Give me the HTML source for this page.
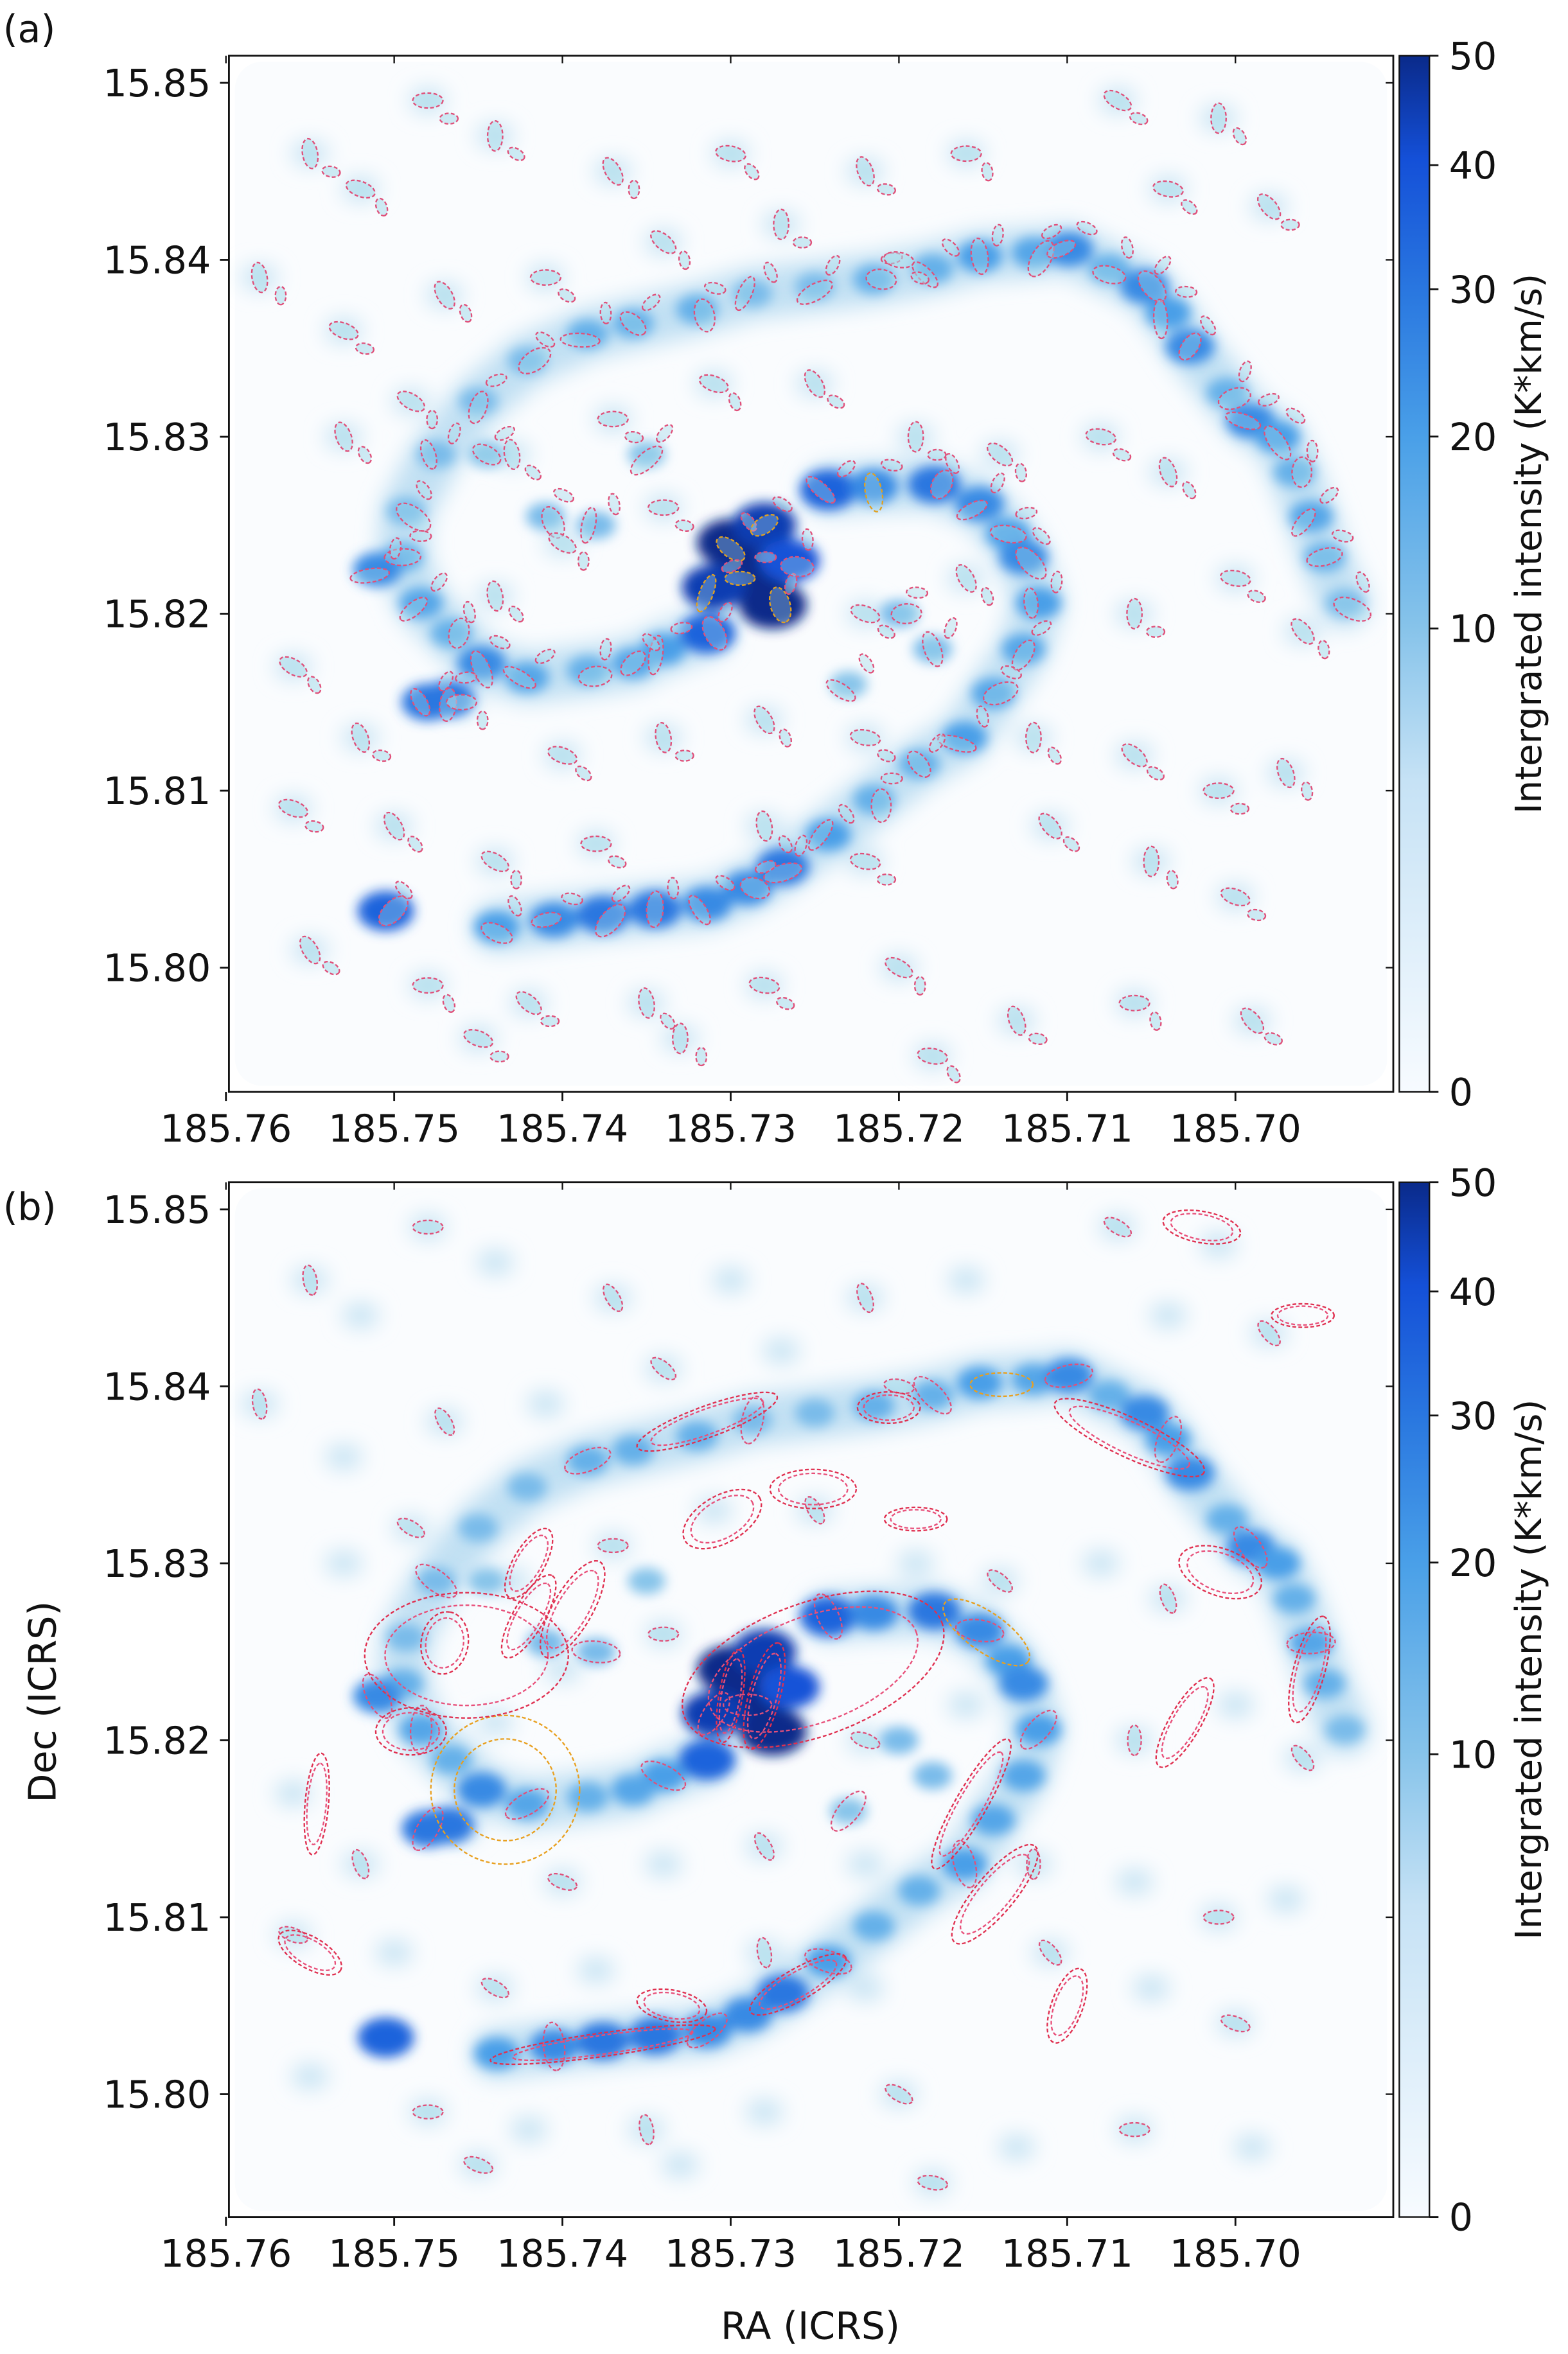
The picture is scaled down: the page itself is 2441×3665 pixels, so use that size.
<!DOCTYPE html>
<html><head><meta charset="utf-8"><style>
html,body{margin:0;padding:0;background:#fff}
svg{display:block}
text{font-family:"DejaVu Sans","Liberation Sans",sans-serif;fill:#111}
</style></head><body>
<svg id="fig" width="2441" height="3665" viewBox="0 0 1041 1563" preserveAspectRatio="none" xmlns="http://www.w3.org/2000/svg">
<defs>
<filter id="blur" x="-50%" y="-50%" width="200%" height="200%"><feGaussianBlur stdDeviation="4"/></filter>
<filter id="blur2" x="-50%" y="-50%" width="200%" height="200%"><feGaussianBlur stdDeviation="7"/></filter>
<linearGradient id="cbgrad" x1="0" y1="1" x2="0" y2="0">
<stop offset="0" stop-color="#f7fbff"/><stop offset="0.3" stop-color="#c6e2f5"/><stop offset="0.45" stop-color="#86c3ea"/><stop offset="0.63" stop-color="#4aa0e8"/><stop offset="0.77" stop-color="#2a78e0"/><stop offset="0.9" stop-color="#1450d8"/><stop offset="1" stop-color="#0a2a8a"/>
</linearGradient>
</defs>
</svg>
<script>
const raTicks=[185.76,185.75,185.74,185.73,185.72,185.71,185.70];
const decTicks=[15.85,15.84,15.83,15.82,15.81,15.80];
const cbTicks=[0,10,20,30,40,50];
const clumpRA=[185.7290,185.7300,185.7275,185.7310,185.7280,185.7265,185.7242,185.7215,185.7179,185.7152,185.7135,185.7126,185.7117,185.7126,185.7144,185.7161,185.7188,185.7215,185.7242,185.7269,185.7290,185.7314,185.7345,185.7376,185.7405,185.7439,185.7314,185.7340,185.7358,185.7385,185.7421,185.7448,185.7466,185.7484,185.7495,185.7493,185.7475,185.7450,185.7421,185.7385,185.7358,185.7320,185.7287,185.7250,185.7215,185.7180,185.7152,185.7120,185.7099,185.7075,185.7054,185.7040,185.7027,185.7005,185.6991,185.6975,185.6965,185.6955,185.6947,185.6935,185.7480,185.7468,185.7505,185.7510,185.7445,185.7410,185.7380,185.7350,185.7200,185.7230,185.7180];
const clumpDec=[15.8220,15.8240,15.8205,15.8215,15.8250,15.8230,15.8270,15.8272,15.8273,15.8262,15.8245,15.8232,15.8206,15.8180,15.8155,15.8130,15.8115,15.8095,15.8075,15.8057,15.8045,15.8036,15.8033,15.8030,15.8027,15.8023,15.8189,15.8180,15.8172,15.8168,15.8164,15.8172,15.8189,15.8206,15.8232,15.8258,15.8290,15.8320,15.8343,15.8358,15.8364,15.8372,15.8381,15.8385,15.8389,15.8395,15.8402,15.8404,15.8406,15.8395,15.8385,15.8370,15.8351,15.8325,15.8309,15.8300,15.8280,15.8255,15.8232,15.8206,15.8150,15.8152,15.8032,15.8225,15.8290,15.8255,15.8250,15.8290,15.8200,15.8160,15.8180];
const clumpI=[50,50,50,45,45,40,35,25,30,25,20,25,20,18,18,20,15,15,20,30,25,25,30,30,25,20,35,20,18,15,18,25,15,18,15,12,12,12,12,15,15,15,12,12,15,15,20,18,25,15,25,20,25,15,25,20,15,18,15,12,30,30,35,25,10,12,12,10,12,10,12];
const fieldRA=[185.755,185.752,185.748,185.744,185.737,185.730,185.722,185.716,185.707,185.701,185.698,185.704,185.758,185.753,185.747,185.741,185.734,185.727,185.720,185.753,185.749,185.743,185.737,185.731,185.725,185.719,185.714,185.708,185.704,185.740,185.734,185.744,185.722,185.716,185.706,185.700,185.696,185.756,185.752,185.746,185.740,185.734,185.728,185.722,185.712,185.706,185.701,185.697,185.756,185.750,185.744,185.738,185.728,185.722,185.711,185.705,185.700,185.755,185.748,185.742,185.735,185.728,185.720,185.713,185.706,185.699,185.745,185.733,185.718];
const fieldDec=[15.846,15.844,15.849,15.847,15.845,15.846,15.845,15.846,15.849,15.848,15.843,15.844,15.839,15.836,15.838,15.839,15.841,15.842,15.840,15.830,15.832,15.829,15.831,15.833,15.833,15.830,15.829,15.830,15.828,15.824,15.826,15.821,15.820,15.822,15.820,15.822,15.819,15.817,15.813,15.815,15.812,15.813,15.814,15.813,15.813,15.812,15.810,15.811,15.809,15.808,15.806,15.807,15.808,15.806,15.808,15.806,15.804,15.801,15.799,15.798,15.798,15.799,15.800,15.797,15.798,15.797,15.796,15.796,15.795];
const fieldPA=[80,20,0,90,60,10,70,0,30,90,50,10,80,20,60,0,40,90,10,70,30,80,0,20,60,90,40,10,70,30,0,80,20,60,90,10,50,30,70,0,20,80,60,10,90,40,0,70,20,60,30,0,80,10,50,90,20,60,0,40,80,10,30,70,0,50,20,90,10];
const bigRA=[185.7434,185.7434,185.7251,185.7376,185.7314,185.7063,185.7148,185.7457,185.6956,185.7009,185.7394,185.7157,185.7143,185.7260,185.7546,185.7206,185.7139,185.7251,185.7305,185.7490,185.7470,185.7420,185.7280,185.7300,185.7030,185.6960,185.7020,185.7420,185.7550,185.7100,185.7335,185.7190];
const bigDec=[15.8172,15.8172,15.8240,15.8028,15.8380,15.8371,15.8261,15.8248,15.8240,15.8295,15.8274,15.8164,15.8113,15.8062,15.8164,15.8388,15.8401,15.8342,15.8325,15.8205,15.8255,15.8300,15.8225,15.8225,15.8210,15.8440,15.8490,15.8270,15.8080,15.8050,15.8050,15.8325];
const bigA=[19,13,35,29,19,21,13,26,14,11,14,19,16,14,13,8,8,11,11,9,8,10,14,12,13,8,10,12,9,10,9,8];
const bigB=[19,13,17,3,4,5,5,16,4,6,5,4,5,4,3,4,3,5,6,6,6,4,4,3,4,3,4,4,4,4,4,3];
const bigPA=[0,0,-20,-8,-20,25,35,0,-75,20,-60,-60,-50,-30,-85,0,0,0,-30,0,-80,-60,-75,-80,-60,0,10,-60,30,-70,10,0];
const bigOrange=[1,1,0,0,0,0,1,0,0,0,0,0,0,0,0,0,1,0,0,0,0,0,0,0,0,0,0,0,0,0,0,0];

const NS='http://www.w3.org/2000/svg';
const svg=document.getElementById('fig');
function el(tag,attrs,parent){const e=document.createElementNS(NS,tag);for(const k in attrs)e.setAttribute(k,attrs[k]);(parent||svg).appendChild(e);return e;}
const X0=150,PXRA=11170;
function xs(ra){return X0+(185.76-ra)*PXRA;}
function cmap(v){const f=Math.sqrt(Math.max(0,Math.min(50,v))/50);
 const st=[[0,[247,251,255]],[0.3,[198,226,245]],[0.45,[134,195,234]],[0.63,[74,160,232]],[0.77,[42,120,224]],[0.9,[20,80,216]],[1,[10,42,138]]];
 for(let i=1;i<st.length;i++){if(f<=st[i][0]){const t=(f-st[i-1][0])/(st[i][0]-st[i-1][0]);const a=st[i-1][1],b=st[i][1];return 'rgb('+a.map((c,j)=>Math.round(c+(b[j]-c)*t)).join(',')+')';}}
 return 'rgb(10,42,138)';}

function panel(name,top,bottom,y0,mode){
 const ys=dec=>y0+(15.85-dec)*11750;
 const left=152,right=925;
 const g=el('g',{});
 
 
 const bg=el('rect',{x:left+4,y:top+4,width:right-left-8,height:bottom-top-8,rx:18,fill:'#fafcfe'},g);
 
 
 const clip='clip'+name;
 const cp=el('clipPath',{id:clip},g);el('rect',{x:left,y:top,width:right-left,height:bottom-top},cp);
 // diffuse arm bands
 const dg=el('g',{'clip-path':'url(#'+clip+')',filter:'url(#blur2)'},g);
 
 
 const arms=[[6,26],[26,60]];
 arms.forEach(r=>{
  let d='';
  for(let i=r[0];i<r[1];i++){d+=(i===r[0]?'M':'L')+xs(clumpRA[i]).toFixed(1)+','+ys(clumpDec[i]).toFixed(1);}
  const p=el('path',{d:d,fill:'none',stroke:'#b4d9f0','stroke-width':34,'stroke-linejoin':'round','stroke-linecap':'round',opacity:0.8},dg);
  
  
 });
 for(let i=0;i<fieldRA.length;i++){
  const c=el('ellipse',{cx:xs(fieldRA[i]),cy:ys(fieldDec[i]),rx:12,ry:8,fill:'#c4e2f3'},dg);
  
  
 }
 const mg=el('g',{'clip-path':'url(#'+clip+')',filter:'url(#blur)'},g);
 
 
 for(let i=0;i<clumpRA.length;i++){
  const c=el('ellipse',{cx:xs(clumpRA[i]),cy:ys(clumpDec[i]),rx:10+clumpI[i]*0.25,ry:7+clumpI[i]*0.18,fill:cmap(clumpI[i])},mg);
  
  
 }
 const eg=el('g',{'clip-path':'url(#'+clip+')'},g);
 
 
 function ell(cx,cy,rx,ry,pa,col,fill){
  const e=el('ellipse',{cx:cx,cy:cy,rx:rx,ry:ry,transform:'rotate('+pa+' '+cx+' '+cy+')',fill:fill,stroke:col,'stroke-width':1,'stroke-dasharray':'2.5 1.5'},eg);
  
  
 }
 if(mode==='a'){
  for(let i=0;i<clumpRA.length;i++){
   const orange=clumpI[i]>=45||i===7;
   ell(xs(clumpRA[i])+(i%3-1)*5,ys(clumpDec[i])+(i%2)*4,10+(i%4),4.5+(i%3),(i*37)%180,orange?'#e0a020':'#e0507a','rgba(170,220,235,0.35)');
   ell(xs(clumpRA[i])+12,ys(clumpDec[i])-14,7,3.5,(i*53)%180,'#e0507a','rgba(170,220,235,0.45)');
  }
  for(let i=0;i<fieldRA.length;i++){
   ell(xs(fieldRA[i]),ys(fieldDec[i]),10,5,fieldPA[i],'#e0507a','rgba(170,220,235,0.55)');
   ell(xs(fieldRA[i])+14,ys(fieldDec[i])+12,6,3.5,fieldPA[(i+5)%fieldPA.length],'#e0507a','rgba(170,220,235,0.55)');
  }
 } else {
  for(let i=0;i<fieldRA.length;i+=2){
   ell(xs(fieldRA[i]),ys(fieldDec[i]),10,4.5,fieldPA[i],'#e0507a','rgba(170,220,235,0.55)');
  }
  for(let i=0;i<clumpRA.length;i+=3){
   ell(xs(clumpRA[i]),ys(clumpDec[i]),16,7,(i*41)%180,'#e0507a','none');
  }
  for(let i=0;i<bigRA.length;i++){
   const sc=2.6;
   ell(xs(bigRA[i]),ys(bigDec[i]),bigA[i]*sc,bigB[i]*sc,bigPA[i],bigOrange[i]?'#e8a020':'#e03050','none');
   if(!bigOrange[i]) ell(xs(bigRA[i]),ys(bigDec[i]),bigA[i]*sc*0.8,bigB[i]*sc*0.8,bigPA[i],'#e8507a','none');
  }
 }
 const ax=el('rect',{x:left,y:top,width:right-left,height:bottom-top,fill:'none',stroke:'#111','stroke-width':1.2},g);
 
 
 raTicks.forEach(v=>{
  const x=xs(v);
  el('line',{x1:x,y1:bottom,x2:x,y2:bottom+6,stroke:'#111','stroke-width':1.2},g);
  el('line',{x1:x,y1:top,x2:x,y2:top+5,stroke:'#111','stroke-width':1},g);
  const t=el('text',{x:x,y:bottom+33,'font-size':25,'text-anchor':'middle'},g);t.textContent=v.toFixed(2);
  
  
 });
 decTicks.forEach(v=>{
  const y=ys(v);
  el('line',{x1:left-6,y1:y,x2:left,y2:y,stroke:'#111','stroke-width':1.2},g);
  el('line',{x1:right-5,y1:y,x2:right,y2:y,stroke:'#111','stroke-width':1},g);
  const t=el('text',{x:left-12,y:y+9,'font-size':25,'text-anchor':'end'},g);t.textContent=v.toFixed(2);
  
  
 });
 const cbx=929,cbw=20;
 const cb=el('rect',{x:cbx,y:top,width:cbw,height:bottom-top,fill:'url(#cbgrad)',stroke:'#111','stroke-width':1},g);
 
 
 const cpos=v=>bottom-Math.sqrt(v/50)*(bottom-top);
 cbTicks.forEach(v=>{
  const y=cpos(v);
  el('line',{x1:cbx+cbw,y1:y,x2:cbx+cbw+6,y2:y,stroke:'#111','stroke-width':1.2},g);
  const t=el('text',{x:cbx+cbw+13,y:y+9,'font-size':25},g);t.textContent=v;
  
  
 });
 const cy=(top+bottom)/2-20;
 const ct=el('text',{x:1023,y:cy,'font-size':24,'text-anchor':'middle',transform:'rotate(-90 1023 '+cy+')'},g);
 ct.textContent='Intergrated intensity (K*km/s)';
 
 
}
panel('panel-a',37,725,55,'a');
panel('panel-b',785,1472,803,'b');
let t;
t=el('text',{x:2,y:28,'font-size':25});t.textContent='(a)';


t=el('text',{x:2,y:810,'font-size':25});t.textContent='(b)';


t=el('text',{x:538,y:1553,'font-size':25,'text-anchor':'middle'});t.textContent='RA (ICRS)';


t=el('text',{x:37,y:1130,'font-size':25,'text-anchor':'middle',transform:'rotate(-90 37 1130)'});t.textContent='Dec (ICRS)';


</script>
</body></html>
